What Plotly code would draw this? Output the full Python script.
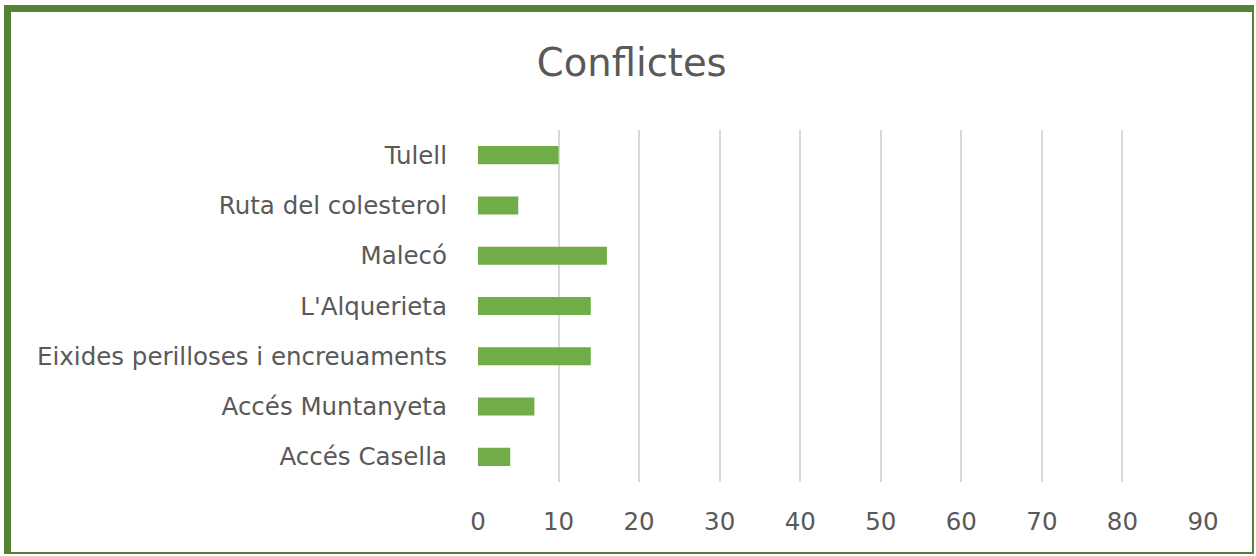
import plotly.graph_objects as go

# Conflict counts per route segment
categories = [
    "Accés Casella",
    "Accés Muntanyeta",
    "Eixides perilloses i encreuaments",
    "L'Alquerieta",
    "Malecó",
    "Ruta del colesterol",
    "Tulell",
]
conflicts = [4, 7, 14, 14, 16, 5, 10]
x_ticks = [0, 10, 20, 30, 40, 50, 60, 70, 80, 90]

W, H = 1256, 556
M_L, M_R, M_T, M_B = 478, 53, 130, 74
PW, PH = W - M_L - M_R, H - M_T - M_B


def px_x(p):
    return (p - M_L) / PW


def px_y(p):
    return 1 - (p - M_T) / PH


fig = go.Figure(
    go.Bar(
        x=conflicts,
        y=categories,
        orientation="h",
        marker=dict(color="#70ad47", line=dict(width=0)),
        width=0.36,
    )
)

border = "#548235"
shapes = [
    # thick left and top edges, thin right and bottom edges
    dict(type="line", xref="paper", yref="paper", x0=px_x(7.5), x1=px_x(7.5),
         y0=px_y(5), y1=px_y(554), line=dict(color=border, width=7)),
    dict(type="line", xref="paper", yref="paper", x0=px_x(4), x1=px_x(1254),
         y0=px_y(8.5), y1=px_y(8.5), line=dict(color=border, width=7)),
    dict(type="line", xref="paper", yref="paper", x0=px_x(1253), x1=px_x(1253),
         y0=px_y(5), y1=px_y(554), line=dict(color=border, width=2)),
    dict(type="line", xref="paper", yref="paper", x0=px_x(4), x1=px_x(1254),
         y0=px_y(553), y1=px_y(553), line=dict(color=border, width=2)),
]

fig.update_layout(
    width=W,
    height=H,
    margin=dict(l=M_L, r=M_R, t=M_T, b=M_B),
    paper_bgcolor="white",
    plot_bgcolor="white",
    showlegend=False,
    title=dict(
        text="Conflictes",
        x=0.503,
        xref="container",
        xanchor="center",
        y=1 - 63 / H,
        yref="container",
        yanchor="middle",
        font=dict(family="DejaVu Sans, sans-serif", size=38.5, color="#595959"),
    ),
    font=dict(family="DejaVu Sans, sans-serif", size=24.5, color="#595959"),
    shapes=shapes,
    bargap=0.64,
)

fig.update_xaxes(
    range=[0, 90],
    tickvals=x_ticks,
    showgrid=True,
    gridcolor="#d9d9d9",
    gridwidth=2,
    zeroline=False,
    showline=False,
    ticks="",
    ticklabelstandoff=22,
    fixedrange=True,
)
fig.update_yaxes(
    categoryorder="array",
    categoryarray=categories,
    showgrid=False,
    zeroline=False,
    showline=False,
    ticks="",
    ticklabelstandoff=30,
    fixedrange=True,
)

fig.write_html("out.html")
